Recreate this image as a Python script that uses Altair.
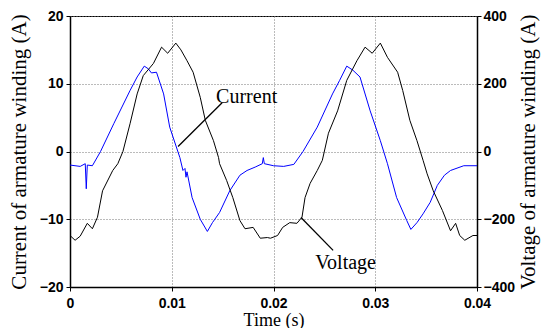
import altair as alt
import pandas as pd

# Current of armature winding (A)
cur_t = [0.0000, 0.0010, 0.0015, 0.0016, 0.0017, 0.0022, 0.0030, 0.0043, 0.0059, 0.0066,
         0.0073, 0.0077, 0.0080, 0.0085, 0.0092, 0.0098, 0.0108, 0.0111, 0.0113, 0.0114,
         0.0115, 0.0120, 0.0128, 0.0135, 0.0140, 0.0147, 0.0157, 0.0167, 0.0174, 0.0182,
         0.0189, 0.0190, 0.0191, 0.0200, 0.0210, 0.0220, 0.0229, 0.0243, 0.0258, 0.0265,
         0.0272, 0.0278, 0.0285, 0.0295, 0.0305, 0.0312, 0.0321, 0.0331, 0.0335, 0.0341,
         0.0347, 0.0354, 0.0361, 0.0368, 0.0374, 0.0387, 0.0400]
cur_a = [-2.0, -2.2, -1.8, -5.5, -2.0, -2.1, 0.0, 4.1, 9.0, 11.0,
         12.6, 12.2, 11.6, 11.7, 8.5, 3.6, -0.9, -2.8, -2.5, -3.8,
         -3.0, -6.8, -10.0, -11.8, -10.5, -9.0, -5.8, -3.5, -2.8, -2.3,
         -1.8, -0.9, -1.8, -2.1, -2.2, -1.9, 0.0, 3.6, 8.5, 10.5,
         12.6, 12.0, 11.0, 6.0, 1.6, -1.8, -6.8, -10.2, -11.5, -10.5,
         -9.2, -7.5, -5.0, -3.5, -2.8, -2.1, -2.1]

# Voltage of armature winding (V)
vol_t = [0.0000, 0.0005, 0.0010, 0.0017, 0.0022, 0.0027, 0.0032, 0.0042, 0.0047, 0.0052,
         0.0059, 0.0066, 0.0072, 0.0082, 0.0090, 0.0096, 0.0104, 0.0109, 0.0115, 0.0121,
         0.0128, 0.0133, 0.0141, 0.0146, 0.0147, 0.0154, 0.0160, 0.0167, 0.0172, 0.0180,
         0.0187, 0.0194, 0.0197, 0.0204, 0.0209, 0.0216, 0.0223, 0.0228, 0.0231, 0.0236,
         0.0243, 0.0248, 0.0254, 0.0263, 0.0272, 0.0282, 0.0290, 0.0297, 0.0305, 0.0312,
         0.0322, 0.0327, 0.0334, 0.0341, 0.0347, 0.0351, 0.0357, 0.0366, 0.0374, 0.0379,
         0.0383, 0.0388, 0.0396, 0.0400]
vol_v = [-248, -262, -250, -212, -228, -194, -116, -56, -36, 0,
         82, 170, 224, 260, 308, 290, 320, 300, 268, 234,
         160, 92, 32, -18, -36, -86, -136, -204, -228, -224,
         -256, -254, -256, -248, -224, -210, -212, -194, -136, -94,
         -56, -26, 54, 120, 210, 268, 308, 290, 320, 278,
         234, 180, 92, 32, -26, -66, -116, -174, -234, -212,
         -248, -262, -248, -248]

# annotations (left-axis units)
ann_text = ["Current", "Voltage"]
ann_tx = [0.01436, 0.0241]
ann_ty = [8.0, -16.4]
ann_x1 = [0.01062, 0.0227]
ann_y1 = [0.74, -9.75]
ann_x2 = [0.01495, 0.02586]
ann_y2 = [7.2, -14.6]

cur_df = pd.DataFrame({"t": cur_t, "i": cur_a})
vol_df = pd.DataFrame({"t": vol_t, "v": vol_v})
txt_df = pd.DataFrame({"label": ann_text, "t": ann_tx, "y": ann_ty})
lin_df = pd.DataFrame({"x1": ann_x1, "y1": ann_y1, "x2": ann_x2, "y2": ann_y2})

sans = "Liberation Sans"
serif = "Liberation Serif"
xscale = alt.Scale(domain=[0, 0.04], nice=False, zero=False)
lscale = alt.Scale(domain=[-20, 20], nice=False, zero=False)
rscale = alt.Scale(domain=[-400, 400], nice=False, zero=False)

grid_col = "#777777"
xaxis = alt.Axis(values=[0, 0.01, 0.02, 0.03, 0.04], format="~g", title="Time (s)",
                 titleFont=serif, titleFontSize=18, titleFontWeight="normal", titleColor="black",
                 titlePadding=1, labelFont=sans, labelFontSize=14, labelFontWeight="bold",
                 labelColor="black", labelPadding=5, tickSize=4, tickColor="black",
                 domainColor="black", domainWidth=1.5, grid=True, gridColor=grid_col,
                 gridDash=[1, 2], labelFlush=False)
laxis = alt.Axis(values=[-20, -10, 0, 10, 20], title="Current of armature winding (A)",
                 titleFont=serif, titleFontSize=21, titleFontWeight="normal", titleColor="black",
                 titlePadding=10, labelFont=sans, labelFontSize=14, labelFontWeight="bold",
                 labelColor="black", labelPadding=3, tickSize=4, tickColor="black",
                 domainColor="black", domainWidth=1.5, grid=True, gridColor=grid_col,
                 gridDash=[1, 2], labelFlush=False, orient="left")
raxis = alt.Axis(values=[-400, -200, 0, 200, 400], title="Voltage of armature winding (A)",
                 titleFont=serif, titleFontSize=21, titleFontWeight="normal", titleColor="black",
                 titlePadding=24, titleAngle=270, labelFont=sans, labelFontSize=14,
                 labelFontWeight="bold", labelColor="black", labelPadding=2, tickSize=4,
                 tickColor="black", domainColor="black", domainWidth=1.5, grid=False,
                 labelFlush=False, orient="right")

current = alt.Chart(cur_df).mark_line(color="#0000ff", strokeWidth=1).encode(
    x=alt.X("t:Q", scale=xscale, axis=xaxis),
    y=alt.Y("i:Q", scale=lscale, axis=laxis),
)
voltage = alt.Chart(vol_df).mark_line(color="black", strokeWidth=1).encode(
    x=alt.X("t:Q", scale=xscale),
    y=alt.Y("v:Q", scale=rscale, axis=raxis),
)
labels = alt.Chart(txt_df).mark_text(font=serif, fontSize=20, align="left",
                                     baseline="middle", color="black").encode(
    x=alt.X("t:Q", scale=xscale),
    y=alt.Y("y:Q", scale=lscale, axis=None),
    text="label:N",
)
pointers = alt.Chart(lin_df).mark_rule(color="black", strokeWidth=1.3).encode(
    x=alt.X("x1:Q", scale=xscale),
    x2="x2:Q",
    y=alt.Y("y1:Q", scale=lscale, axis=None),
    y2="y2:Q",
)

chart = alt.layer(current, voltage, pointers, labels).resolve_scale(
    y="independent"
).properties(
    width=407, height=271,
    autosize=alt.AutoSizeParams(type="none"),
    padding={"left": 70, "top": 16, "right": 66, "bottom": 41},
    background="white",
).configure_view(stroke="black", strokeWidth=1)

chart.save("out.html", embed_options={"renderer": "svg", "actions": False})
